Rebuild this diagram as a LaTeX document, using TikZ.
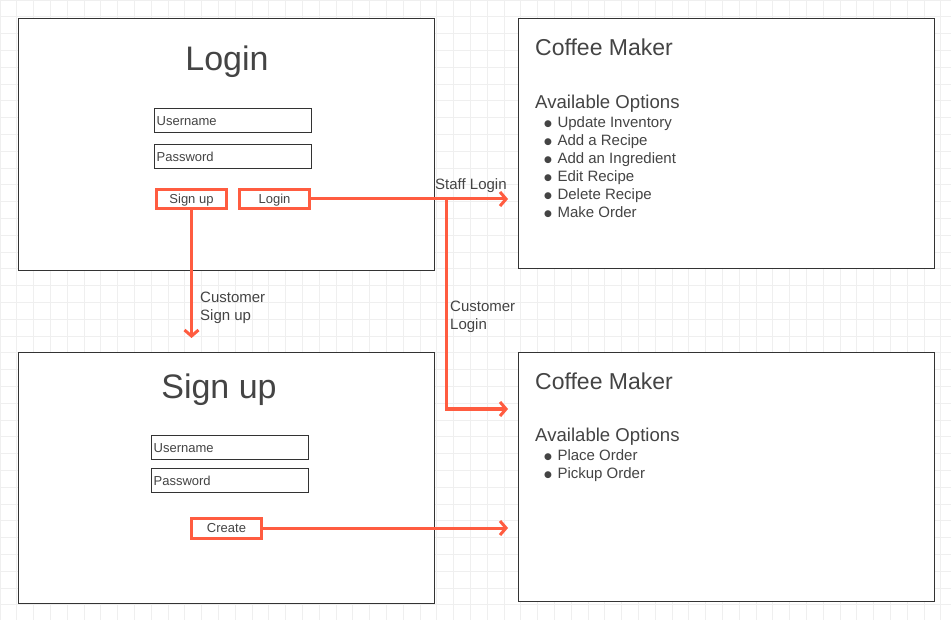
\documentclass[tikz,border=0pt]{standalone}
\usepackage{fontspec}
\setmainfont{Liberation Sans}
\newfontfamily\symfont{DejaVu Sans}
\usetikzlibrary{arrows.meta}
\definecolor{ink}{HTML}{444444}
\definecolor{frame}{HTML}{333333}
\definecolor{link}{HTML}{FF5C40}
\definecolor{gridc}{HTML}{EFEFEF}
\newcommand{\bul}{\raisebox{1.2pt}{\symfont\fontsize{9}{9}\selectfont ●}}
\tikzset{
  screen/.style={draw=frame, line width=1.3pt, fill=white, anchor=north west, inner sep=0pt},
  field/.style={draw=frame, line width=1.3pt, anchor=north west, inner xsep=2pt, inner ysep=0pt,
    text width=153pt, minimum height=24pt, align=left, text=ink, font=\fontsize{13}{13}\selectfont},
  button/.style={draw=link, line width=3pt, outer sep=0pt, inner sep=0pt,
    minimum width=70pt, minimum height=19pt, text height=10pt, text depth=1pt,
    text=ink, font=\fontsize{13}{13}\selectfont},
  title/.style={anchor=base, inner sep=0pt, text=ink, font=\fontsize{34}{34}\selectfont},
  heading/.style={anchor=base west, inner sep=0pt, text=ink, font=\fontsize{23}{23}\selectfont},
  subheading/.style={anchor=base west, inner sep=0pt, text=ink, font=\fontsize{18.6}{18.6}\selectfont},
  item/.style={anchor=base west, inner sep=0pt, text=ink, font=\fontsize{15}{15}\selectfont},
  caption/.style={anchor=base west, inner sep=0pt, text=ink, font=\fontsize{15}{15}\selectfont},
  flow/.style={draw=link, line width=3pt, -{Straight Barb[length=6pt,width=14pt]}},
}
\begin{document}
\begin{tikzpicture}[x=1pt,y=-1pt]
\useasboundingbox (0,0) rectangle (951,620);
\fill[white] (0,0) rectangle (951,620);
% background grid
\foreach \i in {0,...,56} \draw[gridc, line width=0.8pt] (\i*16.8,0) -- (\i*16.8,620);
\foreach \j in {0,...,36} \draw[gridc, line width=0.8pt] (0,\j*16.8) -- (951,\j*16.8);

% screens
\node[screen, minimum width=416pt, minimum height=252pt] (login) at (18,18) {};
\node[screen, minimum width=416pt, minimum height=250pt] (staff) at (518,18) {};
\node[screen, minimum width=416pt, minimum height=251pt] (signup) at (18,352) {};
\node[screen, minimum width=416pt, minimum height=249pt] (cust) at (518,352) {};

% login screen
\node[title] (logintitle) at (227,71) {Login};
\node[field] (loginuser) at (154,108) {Username};
\node[field] (loginpass) at (154,144) {Password};
\node[button] (signbtn) at (191.5,199) {Sign up};
\node[button] (loginbtn) at (274.5,199) {Login};

% sign up screen
\node[title] (signtitle) at (219,399) {Sign up};
\node[field] (signuser) at (151,435) {Username};
\node[field] (signpass) at (151,468) {Password};
\node[button, minimum height=20pt] (createbtn) at (226.5,528) {Create};

% staff screen
\node[heading] (stafftitle) at (535,56) {Coffee Maker};
\node[subheading] (staffopts) at (535,108.5) {Available Options};
\foreach \t [count=\k from 0] in {Update Inventory, Add a Recipe, Add an Ingredient, Edit Recipe, Delete Recipe, Make Order}
  \node[item] (staffitem\k) at (544,127.5+\k*18) {\bul\hspace{5.5pt}\t};

% customer screen
\node[heading] (custtitle) at (535,389) {Coffee Maker};
\node[subheading] (custopts) at (535,441.5) {Available Options};
\foreach \t [count=\k from 0] in {Place Order, Pickup Order}
  \node[item] (custitem\k) at (544,460.5+\k*18) {\bul\hspace{5.5pt}\t};

% connectors
\coordinate (split) at (446,199);
\coordinate (custin) at (508,409);
\draw[flow, shorten >=10pt] (loginbtn.east) -- (loginbtn.east -| staff.west);
\draw[flow] (split) |- (custin);
\draw[flow, shorten >=14pt] (signbtn.south) -- (signbtn.south |- signup.north);
\draw[flow, shorten >=10pt] (createbtn.east) -- (createbtn.east -| cust.west);

% connector labels
\node[caption] (stafflabel) at (435,189.5) {Staff Login};
\node[caption] (signlabel1) at (200,302.5) {Customer};
\node[caption] (signlabel2) at (200,320.5) {Sign up};
\node[caption] (custlabel1) at (450,311.5) {Customer};
\node[caption] (custlabel2) at (450,329.5) {Login};
\end{tikzpicture}
\end{document}
